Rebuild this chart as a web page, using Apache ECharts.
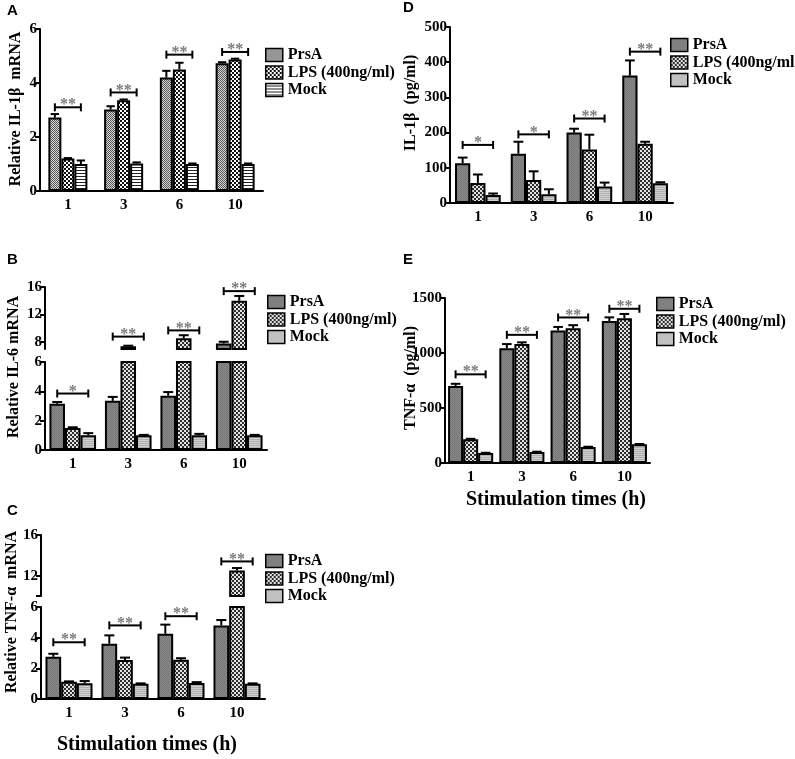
<!DOCTYPE html>
<html>
<head>
<meta charset="utf-8">
<title>PrsA stimulation</title>
<script src="https://cdn.jsdelivr.net/npm/echarts@6/dist/echarts.min.js"></script>
</head>
<body style="margin:0;background:#fff">
<div id="container" style="width:795px;height:759px"></div>
<script>
var times = ['1', '3', '6', '10'];
var groupNames = ['PrsA', 'LPS (400ng/ml)', 'Mock'];

// A - relative IL-1b mRNA
var aPrsA = [2.72, 3.02, 4.2, 4.73];
var aPrsAErr = [0.13, 0.12, 0.25, 0.04];
var aLps = [1.2, 3.36, 4.5, 4.87];
var aLpsErr = [0.02, 0.03, 0.25, 0.03];
var aMock = [1.0, 1.02, 1.0, 1.0];
var aMockErr = [0.13, 0.04, 0.02, 0.02];
var aSigY = [3.1, 3.65, 5.05, 5.15];
var aSigText = ['**', '**', '**', '**'];

// B - relative IL-6 mRNA (broken axis)
var bPrsA = [3.15, 3.35, 3.7, 7.8];
var bPrsAErr = [0.12, 0.27, 0.25, 0.25];
var bLps = [1.5, 7.4, 8.55, 14.0];
var bLpsErr = [0.05, 0.08, 0.45, 0.7];
var bMock = [1.0, 1.0, 1.0, 1.0];
var bMockErr = [0.15, 0.03, 0.1, 0.03];
var bSigY = [3.85, 8.8, 9.7, 15.4];
var bSigText = ['*', '**', '**', '**'];

// C - relative TNF-a mRNA (broken axis)
var cPrsA = [2.75, 3.6, 4.25, 4.8];
var cPrsAErr = [0.2, 0.55, 0.6, 0.35];
var cLps = [1.12, 2.55, 2.56, 12.5];
var cLpsErr = [0.03, 0.15, 0.1, 0.25];
var cMock = [1.02, 1.0, 1.05, 1.0];
var cMockErr = [0.15, 0.02, 0.05, 0.02];
var cSigY = [3.7, 4.8, 5.4, 13.4];
var cSigText = ['**', '**', '**', '**'];

// D - IL-1b (pg/ml)
var dPrsA = [113, 140, 200, 362];
var dPrsAErr = [16, 34, 11, 43];
var dLps = [57, 65, 152, 168];
var dLpsErr = [24, 25, 42, 6];
var dMock = [23, 25, 47, 56];
var dMockErr = [4, 14, 11, 3];
var dSigY = [165, 195, 240, 430];
var dSigText = ['*', '*', '**', '**'];

// E - TNF-a (pg/ml)
var ePrsA = [700, 1043, 1205, 1290];
var ePrsAErr = [20, 38, 32, 34];
var eLps = [215, 1082, 1225, 1315];
var eLpsErr = [5, 15, 28, 40];
var eMock = [90, 100, 145, 170];
var eMockErr = [3, 3, 3, 3];
var eSigY = [806, 1165, 1323, 1402];
var eSigText = ['**', '**', '**', '**'];

var serif = '"Liberation Serif", "Times New Roman", serif';

function tile(w, h, draw) {
  var c = document.createElement('canvas');
  c.width = w; c.height = h;
  draw(c.getContext('2d'));
  return { image: c, repeat: 'repeat' };
}
function checker(size, dark, light) {
  return tile(size * 2, size * 2, function (ctx) {
    ctx.fillStyle = light; ctx.fillRect(0, 0, size * 2, size * 2);
    ctx.fillStyle = dark;
    ctx.fillRect(0, 0, size, size);
    ctx.fillRect(size, size, size, size);
  });
}
function stripes(period, line, bg) {
  return tile(4, period, function (ctx) {
    ctx.fillStyle = bg; ctx.fillRect(0, 0, 4, period);
    ctx.fillStyle = line; ctx.fillRect(0, period - 1, 4, 1);
  });
}

// panel A uses its own fills, the rest share one set
var fillsA = [checker(1, '#555', '#d8d8d8'), checker(2, '#111', '#fff'), stripes(3, '#222', '#fff')];
var fills = [checker(1, '#767676', '#8a8a8a'), checker(2, '#2e2e2e', '#e4e4e4'), stripes(2, '#b2b2b2', '#cfcfcf')];

var grids = [], xAxes = [], yAxes = [], series = [];

function errorRender(gap) {
  return function (params, api) {
    var i = api.value(0), v = api.value(1), e = api.value(2), k = api.value(3);
    var band = api.size([1, 0])[0];
    var bw = band * (1 - gap) / 3;
    var base = api.coord([i, v]);
    var top = api.coord([i, v + e]);
    var x = base[0] + (k - 1) * bw;
    var cap = bw * 0.32;
    var st = { stroke: '#000', lineWidth: 2 };
    return {
      type: 'group',
      children: [
        { type: 'line', shape: { x1: x, y1: base[1], x2: x, y2: top[1] }, style: st },
        { type: 'line', shape: { x1: x - cap, y1: top[1], x2: x + cap, y2: top[1] }, style: st }
      ]
    };
  };
}

function sigRender(gap, texts) {
  return function (params, api) {
    var i = api.value(0), y = api.value(1);
    var c = api.coord([i, y]);
    var band = api.size([1, 0])[0];
    var bw = band * (1 - gap) / 3;
    var x1 = c[0] - bw, x2 = c[0] + bw;
    var st = { stroke: '#000', lineWidth: 2 };
    return {
      type: 'group',
      children: [
        { type: 'line', shape: { x1: x1, y1: c[1], x2: x2, y2: c[1] }, style: st },
        { type: 'line', shape: { x1: x1, y1: c[1] - 4, x2: x1, y2: c[1] + 4 }, style: st },
        { type: 'line', shape: { x1: x2, y1: c[1] - 4, x2: x2, y2: c[1] + 4 }, style: st },
        { type: 'text', x: c[0], y: c[1] - 2, style: { text: texts[i], fill: '#7a7a7a', font: 'bold 16px ' + serif, align: 'center', verticalAlign: 'middle' } }
      ]
    };
  };
}

function addGrid(cfg) {
  var gi = grids.length;
  grids.push(cfg.rect);
  xAxes.push({
    gridIndex: gi, type: 'category', data: times, show: cfg.showX !== false,
    axisLine: { lineStyle: { color: '#000', width: 2 } },
    axisTick: { show: false },
    axisLabel: { color: '#000', fontFamily: serif, fontWeight: 'bold', fontSize: 15, margin: 7 }
  });
  var y = {
    gridIndex: gi, type: 'value', min: cfg.min, max: cfg.max,
    splitLine: { show: false },
    axisLine: { show: true, lineStyle: { color: '#000', width: 2 } },
    axisTick: { show: true, length: 5, lineStyle: { color: '#000', width: 2 } },
    axisLabel: { color: '#000', fontFamily: serif, fontWeight: 'bold', fontSize: 15, margin: 3,
      formatter: function (v) { return String(v); } }
  };
  if (cfg.interval) y.interval = cfg.interval;
  if (cfg.tickValues) {
    y.axisTick.customValues = cfg.tickValues;
    y.axisLabel.customValues = cfg.labelValues;
  }
  yAxes.push(y);

  var errData = [];
  cfg.values.forEach(function (vals, k) {
    series.push({
      type: 'bar', name: groupNames[k], xAxisIndex: gi, yAxisIndex: gi,
      barGap: '0%', barCategoryGap: (cfg.gap * 100) + '%',
      data: vals.map(function (v) { return v >= cfg.min ? v : '-'; }),
      itemStyle: { color: cfg.fills[k], borderColor: '#000', borderWidth: 2 },
      emphasis: { disabled: true }
    });
    vals.forEach(function (v, i) {
      var e = cfg.errs[k][i];
      if (v >= cfg.min && v + e <= cfg.max) errData.push([i, v, e, k]);
    });
  });
  series.push({
    type: 'custom', name: 'err' + gi, xAxisIndex: gi, yAxisIndex: gi, z: 3,
    renderItem: errorRender(cfg.gap), data: errData, silent: true
  });
  var sigData = [];
  cfg.sigY.forEach(function (v, i) {
    if (v >= cfg.min && v <= cfg.max) sigData.push([i, v]);
  });
  series.push({
    type: 'custom', name: 'sig' + gi, xAxisIndex: gi, yAxisIndex: gi, z: 4,
    renderItem: sigRender(cfg.gap, cfg.sigText), data: sigData, silent: true
  });
}

// A
addGrid({ rect: { left: 40, top: 29, width: 223, height: 162 }, min: 0, max: 6, interval: 2, gap: 0.3,
  fills: fillsA, values: [aPrsA, aLps, aMock], errs: [aPrsAErr, aLpsErr, aMockErr], sigY: aSigY, sigText: aSigText });
// B lower / upper
var bVals = [bPrsA, bLps, bMock], bErrs = [bPrsAErr, bLpsErr, bMockErr];
addGrid({ rect: { left: 45, top: 362, width: 222, height: 88 }, min: 0, max: 6, interval: 2, gap: 0.16,
  fills: fills, values: bVals, errs: bErrs, sigY: bSigY, sigText: bSigText });
addGrid({ rect: { left: 45, top: 287, width: 222, height: 62 }, min: 7, max: 16, showX: false,
  tickValues: [8, 12, 16], labelValues: [8, 12, 16], gap: 0.16,
  fills: fills, values: bVals, errs: bErrs, sigY: bSigY, sigText: bSigText });
// C lower / upper
var cVals = [cPrsA, cLps, cMock], cErrs = [cPrsAErr, cLpsErr, cMockErr];
addGrid({ rect: { left: 41, top: 607, width: 224, height: 92 }, min: 0, max: 6, interval: 2, gap: 0.16,
  fills: fills, values: cVals, errs: cErrs, sigY: cSigY, sigText: cSigText });
addGrid({ rect: { left: 41, top: 535, width: 224, height: 61 }, min: 10, max: 16, showX: false,
  tickValues: [10, 12, 16], labelValues: [12, 16], gap: 0.16,
  fills: fills, values: cVals, errs: cErrs, sigY: cSigY, sigText: cSigText });
// D
addGrid({ rect: { left: 450, top: 27, width: 223, height: 176 }, min: 0, max: 500, interval: 100, gap: 0.18,
  fills: fills, values: [dPrsA, dLps, dMock], errs: [dPrsAErr, dLpsErr, dMockErr], sigY: dSigY, sigText: dSigText });
// E
addGrid({ rect: { left: 445, top: 298, width: 205, height: 165 }, min: 0, max: 1500, interval: 500, gap: 0.12,
  fills: fills, values: [ePrsA, eLps, eMock], errs: [ePrsAErr, eLpsErr, eMockErr], sigY: eSigY, sigText: eSigText });

function legendAt(left, top, f) {
  return {
    orient: 'vertical', left: left, top: top, padding: 0, itemGap: 1.5,
    itemWidth: 17, itemHeight: 13, icon: 'rect', selectedMode: false,
    textStyle: { fontFamily: serif, fontWeight: 'bold', fontSize: 16, lineHeight: 16, color: '#000' },
    data: groupNames.map(function (n, k) {
      return { name: n, itemStyle: { color: f[k], borderColor: '#000', borderWidth: 1.5 } };
    })
  };
}

function vTitle(text, x, y) {
  return { type: 'text', x: x, y: y, rotation: Math.PI / 2,
    style: { text: text, fill: '#000', font: 'bold 16px ' + serif, align: 'center', verticalAlign: 'middle' } };
}
function hTitle(text, x, y) {
  return { type: 'text', x: x, y: y,
    style: { text: text, fill: '#000', font: 'bold 20px ' + serif, align: 'center', verticalAlign: 'middle' } };
}
function letter(text, x, y) {
  return { type: 'text', x: x, y: y,
    style: { text: text, fill: '#000', font: 'bold 15px "Liberation Sans", Arial, sans-serif', align: 'left', verticalAlign: 'middle' } };
}

var chart = echarts.init(document.getElementById('container'));
chart.setOption({
  animation: false,
  backgroundColor: '#fff',
  grid: grids,
  xAxis: xAxes,
  yAxis: yAxes,
  series: series,
  legend: [
    legendAt(265, 47, fillsA),
    legendAt(267, 294, fills),
    legendAt(265, 553, fills),
    legendAt(670, 37, fills),
    legendAt(656, 296, fills)
  ],
  graphic: [
    letter('A', 7, 11), letter('B', 7, 260), letter('C', 7, 511),
    letter('D', 403, 8), letter('E', 403, 260),
    vTitle('Relative IL-1\u03b2  mRNA', 16, 109),
    vTitle('Relative IL-6 mRNA', 14, 367),
    vTitle('Relative TNF-\u03b1  mRNA', 12, 612),
    vTitle('IL-1\u03b2  (pg/ml)', 411, 103),
    vTitle('TNF-\u03b1  (pg/ml)', 411, 378),
    hTitle('Stimulation times (h)', 147, 745),
    hTitle('Stimulation times (h)', 556, 500)
  ]
});
</script>
</body>
</html>
